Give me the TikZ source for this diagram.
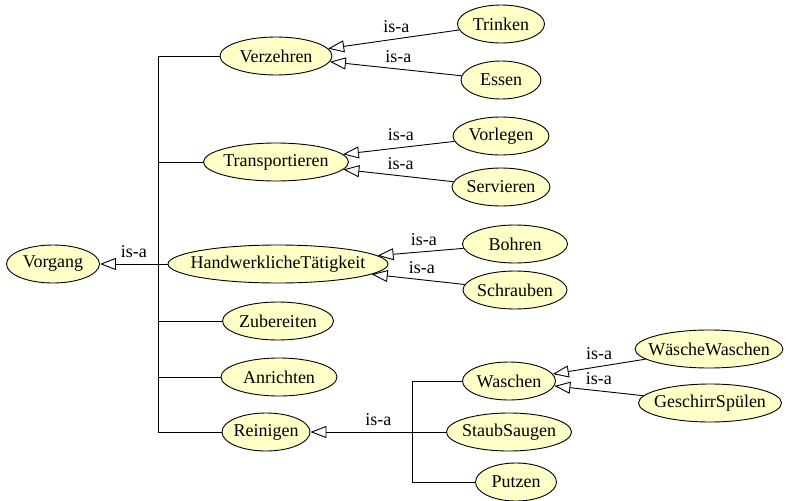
\documentclass[tikz,border=0pt]{standalone}
\usepackage{fontspec}
\setmainfont{Liberation Serif}
\usetikzlibrary{shapes.geometric,arrows.meta}
\definecolor{entfill}{RGB}{255,255,200}
% text is set in a zero-width box so the ellipse size comes from minimum width/height
\newcommand\entname[1]{\makebox[0pt]{#1}}
\begin{document}
\begin{tikzpicture}[x=1pt,y=-1pt,
  ent/.style={ellipse, draw=black, line width=0.9pt, fill=entfill, inner sep=0pt,
    minimum height=38pt, font=\fontsize{18}{20}\selectfont},
  conn/.style={draw=black, line width=0.9pt},
  isa/.style={conn, -{Triangle[open, length=16pt, width=12pt, line width=0.9pt]}},
  lbl/.style={font=\fontsize{18}{20}\selectfont, inner sep=1pt, above=5pt}]
\useasboundingbox (0,0) rectangle (788,501);

% concepts
\node[ent, minimum width=93pt]  (vorgang)   at (53,264)  {\entname{Vorgang}};
\node[ent, minimum width=112pt] (verzehren) at (276,56)  {\entname{Verzehren}};
\node[ent, minimum width=87pt]  (trinken)   at (501,24)  {\entname{Trinken}};
\node[ent, minimum width=80pt]  (essen)     at (501,80)  {\entname{Essen}};
\node[ent, minimum width=145pt] (transp)    at (276,162) {\entname{Transportieren}};
\node[ent, minimum width=96pt]  (vorlegen)  at (501,136) {\entname{Vorlegen}};
\node[ent, minimum width=98pt]  (servieren) at (501,187) {\entname{Servieren}};
\node[ent, minimum width=220pt] (handw)     at (278,264) {\entname{HandwerklicheTätigkeit}};
\node[ent, minimum width=105pt] (bohren)    at (515,244) {\entname{Bohren}};
\node[ent, minimum width=104pt] (schrauben) at (515,290) {\entname{Schrauben}};
\node[ent, minimum width=111pt] (zubereiten) at (278,321) {\entname{Zubereiten}};
\node[ent, minimum width=116pt] (anrichten) at (279,377) {\entname{Anrichten}};
\node[ent, minimum width=88pt]  (reinigen)  at (266,432) {\entname{Reinigen}};
\node[ent, minimum width=93pt]  (waschen)   at (509,381) {\entname{Waschen}};
\node[ent, minimum width=125pt] (staub)     at (509,432) {\entname{StaubSaugen}};
\node[ent, minimum width=81pt]  (putzen)    at (516,482) {\entname{Putzen}};
\node[ent, minimum width=148pt] (waesche)   at (709,349) {\entname{WäscheWaschen}};
\node[ent, minimum width=143pt] (geschirr)  at (710,403) {\entname{GeschirrSpülen}};

% shared branch lines
\coordinate (bus)  at (158,264);
\coordinate (bus2) at (412,432);

% Vorgang and its subconcepts
\draw[isa] (handw.west) -- node[lbl] {is-a} (vorgang.east);
\draw[conn] (verzehren.west) -- (verzehren.west -| bus) -- (reinigen.west -| bus) -- (reinigen.west);
\foreach \n in {transp, zubereiten, anrichten}
  \draw[conn] (\n.west) -- (\n.west -| bus);

% Reinigen and its subconcepts
\draw[isa] (staub.west) -- node[lbl] {is-a} (reinigen.east);
\draw[conn] (waschen.west) -- (waschen.west -| bus2) -- (putzen.west -| bus2) -- (putzen.west);

% direct is-a links
\draw[isa] (trinken)   -- node[lbl, pos=0.48] {is-a} (verzehren);
\draw[isa] (essen)     -- node[lbl, pos=0.48] {is-a} (verzehren);
\draw[isa] (vorlegen)  -- node[lbl, pos=0.48] {is-a} (transp);
\draw[isa] (servieren) -- node[lbl, pos=0.48] {is-a} (transp);
\draw[isa] (bohren)    -- node[lbl, pos=0.46] {is-a} (handw);
\draw[isa] (schrauben) -- node[lbl, pos=0.46] {is-a} (handw);
\draw[isa] (waesche)   -- node[lbl, pos=0.5] {is-a} (waschen);
\draw[isa] (geschirr)  -- node[lbl, pos=0.5] {is-a} (waschen);
\end{tikzpicture}
\end{document}
